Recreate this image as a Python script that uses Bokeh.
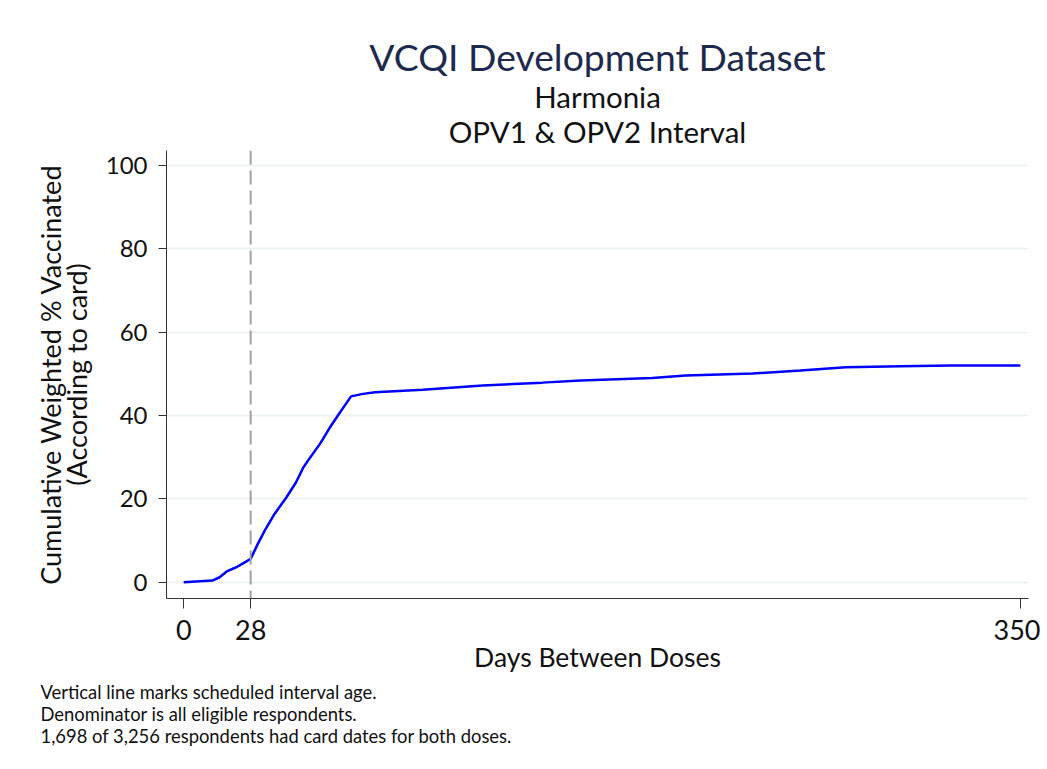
from bokeh.plotting import figure
from bokeh.models import Range1d, FixedTicker, Span, Title, ColumnDataSource
from bokeh.embed import file_html
from bokeh.resources import INLINE

# ---- data ----
days = [0, 12, 15, 18, 22, 25, 28, 31, 34, 38, 43, 47, 50, 52, 57, 61, 64, 70,
        75, 80, 100, 125, 150, 166, 196, 210, 238, 258, 277, 300, 321, 350]
pct = [0.0, 0.4, 1.2, 2.6, 3.6, 4.6, 5.6, 9.2, 12.5, 16.4, 20.4, 24.0, 27.5, 29.2,
       33.2, 37.0, 39.6, 44.6, 45.2, 45.6, 46.2, 47.2, 47.9, 48.4, 49.0, 49.6,
       50.1, 50.8, 51.6, 51.8, 52.0, 52.0]
x_ticks = [0, 28, 350]
y_ticks = [0, 20, 40, 60, 80, 100]
scheduled_interval = 28

title = "VCQI Development Dataset"
subtitles = ["Harmonia", "OPV1 & OPV2 Interval"]
y_label = ["Cumulative Weighted % Vaccinated", "(According to card)"]
x_label = "Days Between Doses"
notes = ["Vertical line marks scheduled interval age.",
         "Denominator is all eligible respondents.",
         "1,698 of 3,256 respondents had card dates for both doses."]

FONT = "Lato"

p = figure(width=1040, height=765, output_backend="svg", toolbar_location=None,
           x_range=Range1d(-7.2, 353.4), y_range=Range1d(-3.9, 103.6),
           min_border_left=166, min_border_right=12, min_border_top=150,
           min_border_bottom=167, title=None)
p.outline_line_color = None
p.background_fill_color = "white"
p.border_fill_color = "white"

src = ColumnDataSource(dict(x=days, y=pct))
p.line("x", "y", source=src, line_color="#0000ff", line_width=2.5)

p.add_layout(Span(location=scheduled_interval, dimension="height",
                  line_color="#a0a0a0", line_width=2, line_dash="14 6"))

# grids
p.xgrid.grid_line_color = None
p.ygrid.grid_line_color = "#eaf1f3"
p.ygrid.grid_line_width = 1.5

# axes
for ax in (p.xaxis[0], p.yaxis[0]):
    ax.axis_line_color = "#333333"
    ax.major_tick_line_color = "#333333"
    ax.minor_tick_line_color = None
    ax.major_tick_in = 0
    ax.major_label_text_font = FONT
    ax.major_label_text_color = "#111111"
    ax.axis_label_text_font = FONT
    ax.axis_label_text_font_style = "normal"
    ax.axis_label_text_color = "#111111"

p.xaxis.ticker = FixedTicker(ticks=x_ticks)
p.yaxis.ticker = FixedTicker(ticks=y_ticks)
p.xaxis.major_label_text_font_size = "27px"
p.yaxis.major_label_text_font_size = "24px"
p.xaxis.major_tick_out = 10
p.yaxis.major_tick_out = 8
p.xaxis.major_label_standoff = 11
p.yaxis.major_label_standoff = 11
p.xaxis.axis_label = x_label
p.xaxis.axis_label_text_font_size = "26.5px"
p.xaxis.axis_label_standoff = -2


def side_title(text, size, standoff, color="#111111", align="center", **kw):
    return Title(text=text, align=align, text_font=FONT, text_font_size=size,
                 text_font_style="normal", text_color=color, standoff=standoff,
                 **kw)


# y-axis label lines (left side; first added sits nearest the axis)
p.add_layout(side_title(y_label[1], "27px", 20), "left")
p.add_layout(side_title(y_label[0], "27px", -38), "left")

# titles above: first added sits nearest the plot frame
p.add_layout(side_title(subtitles[1], "29.5px", 3), "above")
p.add_layout(side_title(subtitles[0], "29.5px", -6), "above")
p.add_layout(side_title(title, "37.3px", 2, color="#1d2a4d"), "above")

# notes below
p.add_layout(side_title("\n".join(notes), "18.4px", 6, align="left",
                        offset=-126), "below")

open("out.html", "w").write(file_html(p, INLINE))
